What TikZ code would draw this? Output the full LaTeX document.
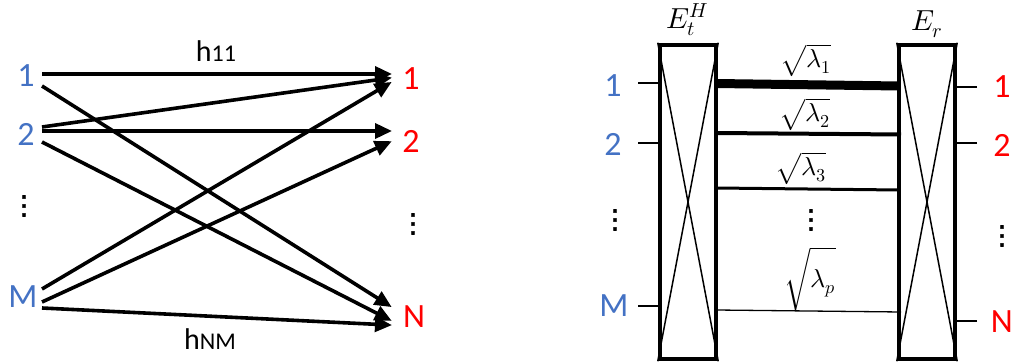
\documentclass[tikz,border=0pt]{standalone}
\usepackage{unicode-math}
\setmainfont{Carlito}
\setmathfont{Latin Modern Math}
\newfontfamily\dotfont[FakeBold=2]{DejaVu Sans}
\usetikzlibrary{arrows.meta}
\definecolor{inblue}{HTML}{4472C4}
\definecolor{outred}{HTML}{FF0000}
\begin{document}
\begin{tikzpicture}[x=1pt,y=-1pt,
  lbl/.style={inner sep=0pt, font=\fontsize{34}{40}\selectfont},
  inlbl/.style={lbl, text=inblue},
  outlbl/.style={lbl, text=outred},
  dotsst/.style={inner sep=0pt, font=\dotfont\fontsize{26}{30}\selectfont},
  arr/.style={line width=3.6pt, -{Triangle[length=17pt,width=15pt]}, shorten >=-2pt},
  boxst/.style={draw, line width=4.5pt, minimum width=56pt, minimum height=314pt, inner sep=0pt},
  crossst/.style={line width=1.5pt},
  stub/.style={line width=2.5pt},
  mlbl/.style={inner sep=0pt, font=\fontsize{26}{28}\selectfont}
]
\useasboundingbox (0,0) rectangle (1013,363);

% ---------- left diagram ----------
\node[inlbl] (i1) at (26,76) {1};
\node[inlbl] (i2) at (26,134) {2};
\node[dotsst] (idots) at (24,206) {⋮};
\node[inlbl] (iM) at (23,297) {M};
\node[outlbl] (o1) at (411,79) {1};
\node[outlbl] (o2) at (411,141) {2};
\node[dotsst] (odots) at (413,224) {⋮};
\node[outlbl] (oN) at (414,317) {N};

\coordinate (s11) at (42,74);
\coordinate (s1N) at (42,86);
\coordinate (s21) at (42,127);
\coordinate (s22) at (42,131);
\coordinate (s2N) at (42,142);
\coordinate (sM1) at (42,289);
\coordinate (sM2) at (42,302);
\coordinate (sMN) at (42,308);

\coordinate (t11) at (390,74);
\coordinate (t21) at (390,78);
\coordinate (tM1) at (390,83);
\coordinate (t22) at (390,131);
\coordinate (tM2) at (390,142);
\coordinate (t1N) at (390,306);
\coordinate (t2N) at (390,320);
\coordinate (tMN) at (390,325);

\draw[arr] (s11) -- (t11);
\draw[arr] (s1N) -- (t1N);
\draw[arr] (s21) -- (t21);
\draw[arr] (s22) -- (t22);
\draw[arr] (s2N) -- (t2N);
\draw[arr] (sM1) -- (tM1);
\draw[arr] (sM2) -- (tM2);
\draw[arr] (sMN) -- (tMN);

\node[inner sep=0pt, anchor=base, font=\fontsize{30}{36}\selectfont] (h11) at (216,62) {h{\fontsize{24}{28}\selectfont 11}};
\node[inner sep=0pt, anchor=base, font=\fontsize{30}{36}\selectfont] (hNM) at (210,350) {h{\fontsize{24}{28}\selectfont NM}};

% ---------- right diagram ----------
\node[boxst] (EL) at (688,202) {};
\node[boxst] (ER) at (927,202) {};
\draw[crossst] (EL.north west) -- (EL.south east);
\draw[crossst] (EL.north east) -- (EL.south west);
\draw[crossst] (ER.north west) -- (ER.south east);
\draw[crossst] (ER.north east) -- (ER.south west);

\node[inner sep=0pt, font=\fontsize{29}{30}\selectfont] (ELt) at (687,20) {$E_t^H$};
\node[inner sep=0pt, font=\fontsize{29}{30}\selectfont] (ERt) at (927,24) {$E_r$};

% input stubs
\node[inlbl] (r1) at (613,86) {1};
\node[inlbl] (r2) at (613,144) {2};
\node[dotsst] (rdots) at (615,220) {⋮};
\node[inlbl] (rM) at (614,306) {M};
\coordinate (a1) at (638,83);
\coordinate (a2) at (638,143);
\coordinate (aM) at (638,306);
\draw[stub] (a1) -- (a1 -| EL.west);
\draw[stub] (a2) -- (a2 -| EL.west);
\draw[stub] (aM) -- (aM -| EL.west);

% output stubs
\node[outlbl] (q1) at (1002,87) {1};
\node[outlbl] (q2) at (1002,145) {2};
\node[dotsst] (qdots) at (1002,236) {⋮};
\node[outlbl, anchor=east] (qN) at (1013,322) {N};
\coordinate (b1) at (977,87);
\coordinate (b2) at (977,143);
\coordinate (bN) at (977,321);
\draw[stub] (b1) -- (b1 -| ER.east);
\draw[stub] (b2) -- (b2 -| ER.east);
\draw[stub] (bN) -- (bN -| ER.east);

% eigen channels
\coordinate (c1) at (716,83.5);
\coordinate (d1) at (899,86);
\coordinate (c2) at (716,133);
\coordinate (d2) at (901,134.5);
\coordinate (c3) at (716,188);
\coordinate (d3) at (899,190);
\coordinate (cp) at (716,310);
\coordinate (dp) at (901,312);
\draw[line width=9pt] (c1) -- (d1);
\draw[line width=4pt] (c2) -- (d2);
\draw[line width=3pt] (c3) -- (d3);
\draw[line width=1.3pt] (cp) -- (dp);

\node[mlbl] (l1) at (806,60) {$\sqrt{\lambda_1}$};
\node[mlbl] (l2) at (805,114) {$\sqrt{\lambda_2}$};
\node[mlbl] (l3) at (801,168) {$\sqrt{\lambda_3}$};
\node[dotsst] (ldots) at (811,220) {⋮};
\node[mlbl] (lp) at (810,279) {$\sqrt{\lambda_p\vphantom{\Big|}}$};
\end{tikzpicture}
\end{document}
